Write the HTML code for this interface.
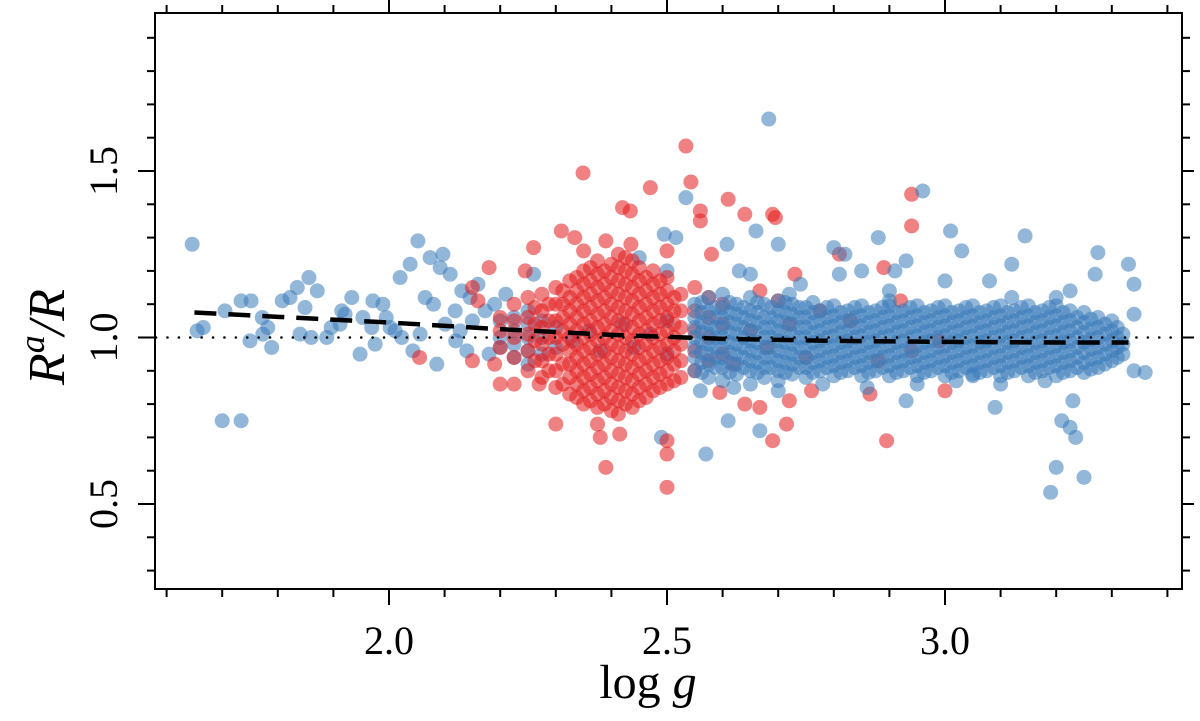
<!DOCTYPE html>
<html><head><meta charset="utf-8"><title>R^a/R vs log g</title>
<style>
html,body{margin:0;padding:0;background:#fff;}
svg{display:block;}
text{font-family:"Liberation Serif","DejaVu Serif",serif;fill:#000;}
</style></head>
<body>
<svg id="chart" width="1200" height="721" viewBox="0 0 1200 721" xmlns="http://www.w3.org/2000/svg">
<g id="points"></g>
<g id="fit"></g>
<rect x="155" y="13" width="1027" height="576" fill="none" stroke="#000" stroke-width="2"/>
<g id="axes"></g>
<text x="648" y="698" font-size="48" text-anchor="middle">log <tspan font-style="italic">g</tspan></text>
<text transform="translate(64,337) rotate(-90)" font-size="52" text-anchor="middle" font-style="italic">R<tspan font-size="36" dy="-20">a</tspan><tspan dy="20">/R</tspan></text>
</svg>
<script>
// ---- data ----
const xTicks = [1.6,1.7,1.8,1.9,2.0,2.1,2.2,2.3,2.4,2.5,2.6,2.7,2.8,2.9,3.0,3.1,3.2,3.3,3.4];
const xTickLabels = ["2.0","2.5","3.0"];
const xMajor = [2.0,2.5,3.0];
const yTicks = [0.3,0.4,0.5,0.6,0.7,0.8,0.9,1.0,1.1,1.2,1.3,1.4,1.5,1.6,1.7,1.8,1.9];
const yTickLabels = ["0.5","1.0","1.5"];
const yMajor = [0.5,1.0,1.5];
const fitX = [1.65,1.8,2.0,2.2,2.4,2.6,2.8,3.0,3.2,3.33];
const fitY = [1.075,1.062,1.045,1.025,1.008,0.996,0.99,0.987,0.985,0.985];
const refY = 1.0;

const blueSparse = [[1.646,1.28],[1.655,1.02],[1.666,1.03],[1.70,0.75],[1.734,0.75],[1.705,1.08],[1.734,1.11],[1.752,1.11],[1.75,0.99],[1.772,1.06],[1.773,1.01],[1.782,1.03],[1.789,0.97],[1.808,1.11],[1.822,1.12],[1.835,1.15],[1.849,1.09],[1.856,1.18],[1.84,1.01],[1.86,1.0],[1.871,1.14],[1.888,1.0],[1.896,1.03],[1.912,1.04],[1.915,1.08],[1.921,1.07],[1.933,1.12],[1.948,0.95],[1.953,1.06],[1.969,1.03],[1.971,1.11],[1.975,0.98],[1.989,1.1],[1.995,1.06],[2.002,1.03],[2.011,1.02],[2.02,1.18],[2.023,1.0],[2.038,1.22],[2.043,0.96],[2.052,1.29],[2.056,1.01],[2.074,1.24],[2.086,0.92],[2.092,1.21],[2.097,1.25],[2.101,1.04],[2.11,1.19],[2.119,1.08],[2.128,1.02],[2.131,1.14],[2.146,1.12],[2.16,1.16],[2.173,1.08],[2.065,1.12],[2.08,1.1],[2.12,0.99],[2.14,0.96],[2.15,1.05],[2.18,0.95],[2.19,1.1],[2.2,1.0],[2.21,1.13],[2.26,1.19],[2.45,1.24],[2.50,1.20],[2.495,1.31],[2.516,1.30],[2.534,1.42],[2.49,0.70],
[2.2,0.97],[2.2,1.05],[2.225,0.94],[2.225,0.98],[2.225,1.02],[2.225,1.06],[2.25,0.92],[2.25,0.96],[2.25,1.0],[2.25,1.04],[2.25,1.08],[2.275,0.95],[2.275,1.0],[2.275,1.05],[2.3,0.97],[2.3,1.03],[2.33,0.99],[2.36,1.02],[2.38,0.96],[2.42,1.04],[2.44,0.97],[2.47,1.01],[2.5,0.95],[2.5,1.05]];

const blueDense = [
[2.55,[0.9,0.94,0.97,1.0,1.03,1.06,1.1]],
[2.575,[0.88,0.92,0.95,0.98,1.01,1.04,1.08,1.12]],
[2.6,[0.87,0.91,0.94,0.97,1.0,1.03,1.06,1.09,1.13]],
[2.625,[0.89,0.92,0.95,0.98,1.01,1.04,1.07,1.1]],
[2.65,[0.86,0.9,0.93,0.96,0.99,1.02,1.05,1.08,1.12]],
[2.675,[0.88,0.91,0.94,0.97,1.0,1.03,1.06,1.1]],
[2.7,[0.87,0.9,0.93,0.96,0.99,1.02,1.05,1.08,1.11]],
[2.725,[0.89,0.92,0.95,0.98,1.01,1.04,1.07,1.1]],
[2.75,[0.88,0.91,0.94,0.97,1.0,1.03,1.06,1.09]],
[2.775,[0.9,0.93,0.96,0.99,1.02,1.05,1.08]],
[2.8,[0.885,0.915,0.945,0.975,1.005,1.035,1.065,1.095]],
[2.825,[0.9,0.93,0.96,0.99,1.02,1.05,1.08]],
[2.85,[0.885,0.915,0.945,0.975,1.005,1.035,1.065,1.095]],
[2.875,[0.9,0.93,0.96,0.99,1.02,1.05,1.08]],
[2.9,[0.885,0.915,0.945,0.975,1.005,1.035,1.065,1.095]],
[2.925,[0.9,0.93,0.96,0.99,1.02,1.05,1.08]],
[2.95,[0.885,0.915,0.945,0.975,1.005,1.035,1.065,1.095]],
[2.975,[0.9,0.93,0.96,0.99,1.02,1.05,1.08]],
[3.0,[0.885,0.915,0.945,0.975,1.005,1.035,1.065,1.095]],
[3.025,[0.9,0.93,0.96,0.99,1.02,1.05,1.08]],
[3.05,[0.885,0.915,0.945,0.975,1.005,1.035,1.065,1.095]],
[3.075,[0.9,0.93,0.96,0.99,1.02,1.05,1.08]],
[3.1,[0.885,0.915,0.945,0.975,1.005,1.035,1.065,1.095]],
[3.125,[0.9,0.93,0.96,0.99,1.02,1.05,1.08]],
[3.15,[0.885,0.915,0.945,0.975,1.005,1.035,1.065,1.095]],
[3.175,[0.9,0.93,0.96,0.99,1.02,1.05,1.08]],
[3.2,[0.885,0.915,0.945,0.975,1.005,1.035,1.065,1.095]],
[3.225,[0.9,0.93,0.96,0.99,1.02,1.05,1.08]],
[3.25,[0.895,0.925,0.955,0.985,1.015,1.045,1.075]],
[3.275,[0.91,0.94,0.97,1.0,1.03,1.06]],
[3.3,[0.93,0.96,0.99,1.02,1.05]],
[3.32,[0.95,0.98,1.01]]];

const blueDense2 = [
[2.5625,[0.895,0.925,0.955,0.985,1.015,1.045,1.075,1.105]],
[2.5875,[0.91,0.94,0.97,1.0,1.03,1.06,1.09]],
[2.6125,[0.895,0.925,0.955,0.985,1.015,1.045,1.075,1.105]],
[2.6375,[0.91,0.94,0.97,1.0,1.03,1.06,1.09]],
[2.6625,[0.895,0.925,0.955,0.985,1.015,1.045,1.075,1.105]],
[2.6875,[0.91,0.94,0.97,1.0,1.03,1.06,1.09]],
[2.7125,[0.895,0.925,0.955,0.985,1.015,1.045,1.075,1.105]],
[2.7375,[0.91,0.94,0.97,1.0,1.03,1.06,1.09]],
[2.7625,[0.895,0.925,0.955,0.985,1.015,1.045,1.075,1.105]],
[2.7875,[0.91,0.94,0.97,1.0,1.03,1.06,1.09]],
[2.8125,[0.895,0.925,0.955,0.985,1.015,1.045,1.075]],
[2.8375,[0.91,0.94,0.97,1.0,1.03,1.06,1.09]],
[2.8625,[0.895,0.925,0.955,0.985,1.015,1.045,1.075]],
[2.8875,[0.91,0.94,0.97,1.0,1.03,1.06,1.09]],
[2.9125,[0.895,0.925,0.955,0.985,1.015,1.045,1.075]],
[2.9375,[0.91,0.94,0.97,1.0,1.03,1.06,1.09]],
[2.9625,[0.895,0.925,0.955,0.985,1.015,1.045,1.075]],
[2.9875,[0.91,0.94,0.97,1.0,1.03,1.06,1.09]],
[3.0125,[0.895,0.925,0.955,0.985,1.015,1.045,1.075]],
[3.0375,[0.91,0.94,0.97,1.0,1.03,1.06,1.09]],
[3.0625,[0.895,0.925,0.955,0.985,1.015,1.045,1.075]],
[3.0875,[0.91,0.94,0.97,1.0,1.03,1.06,1.09]],
[3.1125,[0.895,0.925,0.955,0.985,1.015,1.045,1.075]],
[3.1375,[0.91,0.94,0.97,1.0,1.03,1.06,1.09]],
[3.1625,[0.895,0.925,0.955,0.985,1.015,1.045,1.075]],
[3.1875,[0.91,0.94,0.97,1.0,1.03,1.06,1.09]],
[3.2125,[0.895,0.925,0.955,0.985,1.015,1.045,1.075]],
[3.2375,[0.91,0.94,0.97,1.0,1.03,1.06]],
[3.2625,[0.905,0.935,0.965,0.995,1.025,1.055]],
[3.2875,[0.92,0.95,0.98,1.01,1.04]],
[3.31,[0.94,0.97,1.0,1.03]]];

const blueOut = [[2.683,1.656],[2.608,1.28],[2.66,1.32],[2.70,1.28],[2.96,1.44],[3.01,1.32],[3.144,1.305],[2.88,1.30],[2.80,1.27],[2.82,1.25],[3.275,1.255],[3.33,1.22],[3.27,1.19],[3.34,1.16],[3.225,1.14],[3.34,1.07],[3.34,0.90],[3.36,0.895],[3.23,0.81],[3.21,0.75],[3.225,0.73],[3.235,0.70],[3.20,0.61],[3.19,0.535],[3.25,0.58],[3.09,0.79],[3.05,0.89],[3.02,0.87],[2.93,0.81],[2.57,0.65],[2.56,0.84],[2.61,0.75],[2.667,0.72],[2.9,1.11],[2.91,1.20],[2.93,1.23],[3.03,1.26],[3.08,1.17],[3.12,1.22],[2.74,1.16],[2.81,1.19],[2.85,1.20],[2.65,1.19],[2.63,1.20],[3.0,1.17],[2.62,0.85],[2.7,0.84],[2.78,0.86],[2.86,0.85],[2.95,0.86],[3.1,0.86],[3.18,0.87],[2.72,1.13],[2.9,1.14],[3.12,1.12],[3.2,1.12]];

const redDense = [
[2.2,[0.97,1.02,1.06]],
[2.225,[0.94,1.0,1.05,1.1]],
[2.25,[0.9,0.96,1.01,1.06,1.12]],
[2.2625,[0.93,0.99,1.04,1.09]],
[2.275,[0.88,0.93,0.98,1.03,1.08,1.13]],
[2.2875,[0.9,0.95,1.0,1.05,1.1]],
[2.3,[0.85,0.9,0.95,1.0,1.05,1.1,1.15]],
[2.3125,[0.86,0.92,0.98,1.02,1.06,1.1,1.14]],
[2.325,[0.83,0.88,0.92,0.96,1.0,1.04,1.08,1.12,1.17]],
[2.3375,[0.82,0.86,0.9,0.94,0.98,1.02,1.06,1.1,1.14,1.18]],
[2.35,[0.8,0.84,0.88,0.92,0.96,1.0,1.04,1.08,1.12,1.16,1.2]],
[2.3625,[0.81,0.85,0.89,0.93,0.97,1.01,1.05,1.09,1.13,1.17,1.21]],
[2.375,[0.79,0.83,0.87,0.91,0.95,0.99,1.03,1.07,1.11,1.15,1.19,1.23]],
[2.3875,[0.8,0.84,0.88,0.92,0.96,1.0,1.04,1.08,1.12,1.16,1.2]],
[2.4,[0.78,0.82,0.86,0.9,0.94,0.98,1.02,1.06,1.1,1.14,1.18,1.22]],
[2.4125,[0.77,0.81,0.85,0.89,0.93,0.97,1.01,1.05,1.09,1.13,1.17,1.21,1.25]],
[2.425,[0.8,0.84,0.88,0.92,0.96,1.0,1.04,1.08,1.12,1.16,1.2,1.24]],
[2.4375,[0.79,0.83,0.87,0.91,0.95,0.99,1.03,1.07,1.11,1.15,1.19,1.23]],
[2.45,[0.81,0.85,0.89,0.93,0.97,1.01,1.05,1.09,1.13,1.17,1.21]],
[2.4625,[0.82,0.86,0.9,0.94,0.98,1.02,1.06,1.1,1.14,1.18]],
[2.475,[0.84,0.88,0.92,0.96,1.0,1.04,1.08,1.12,1.16,1.2]],
[2.4875,[0.85,0.89,0.93,0.97,1.01,1.05,1.09,1.13,1.17]],
[2.5,[0.86,0.9,0.94,0.98,1.02,1.06,1.1,1.14,1.18]],
[2.5125,[0.87,0.92,0.96,1.0,1.04,1.08,1.12]],
[2.525,[0.88,0.93,0.98,1.03,1.08,1.13]],
[2.55,[0.9,0.96,1.02,1.08,1.15]],
[2.575,[0.93,1.0,1.06,1.12]],
[2.6,[0.95,1.04,1.1]]];

const redOut = [[2.349,1.494],[2.534,1.575],[2.47,1.45],[2.543,1.467],[2.42,1.39],[2.434,1.38],[2.56,1.38],[2.56,1.35],[2.61,1.415],[2.31,1.32],[2.334,1.30],[2.35,1.26],[2.26,1.27],[2.18,1.21],[2.39,1.29],[2.435,1.28],[2.5,1.26],[2.58,1.25],[2.64,1.37],[2.69,1.37],[2.695,1.36],[2.73,1.19],[2.89,1.21],[2.94,1.335],[2.94,1.43],[2.81,1.25],[2.30,0.74],[2.38,0.70],[2.415,0.71],[2.375,0.74],[2.39,0.61],[2.5,0.69],[2.50,0.65],[2.50,0.55],[2.595,0.835],[2.667,0.79],[2.69,0.69],[2.715,0.74],[2.64,0.80],[2.895,0.69],[2.72,0.81],[2.2,0.86],[2.225,0.86],[2.15,0.93],[2.055,0.94],[2.19,0.92],[2.27,0.86],[2.76,0.84],[2.865,0.83],[3.0,0.84],[2.667,1.14],[2.70,1.11],[2.775,1.08],[2.83,1.05],[2.92,1.11],[2.94,0.96],[2.99,0.99],[2.88,0.93],[2.15,1.15],[2.16,1.11],[2.245,1.2],[2.62,0.92],[2.65,1.02],[2.68,0.97],[2.72,1.04],[2.75,0.94]];

// ---- scales ----
const X = v => 389 + (v - 2.0) * 556;
const Y = v => 337.5 - (v - 1.0) * 333;
const NS = "http://www.w3.org/2000/svg";
const R = 7.5;
const BLUE = "#3b7cb9", RED = "#e41a1c";

function flat(cols){ const out=[]; cols.forEach(c=>c[1].forEach(y=>out.push([c[0],y]))); return out; }
const bluePts = blueSparse.concat(flat(blueDense), flat(blueDense2), blueOut);
const redPts = flat(redDense).concat(redOut);

const pg = document.getElementById("points");
function dot(p, color, name){
  const c = document.createElementNS(NS,"circle");
  c.setAttribute("cx", X(p[0])); c.setAttribute("cy", Y(p[1])); c.setAttribute("r", R);
  c.setAttribute("fill", color); c.setAttribute("fill-opacity", "0.55");
  
  
  pg.appendChild(c);
}
bluePts.filter(p=>p[0]<2.53).forEach(p=>dot(p,BLUE,"blue-point"));
redPts.forEach(p=>dot(p,RED,"red-point"));
bluePts.filter(p=>p[0]>=2.53).forEach(p=>dot(p,BLUE,"blue-point"));

// reference dotted line
const ref = document.createElementNS(NS,"line");
ref.setAttribute("x1",156); ref.setAttribute("x2",1181);
ref.setAttribute("y1",Y(refY)); ref.setAttribute("y2",Y(refY));
ref.setAttribute("stroke","#000"); ref.setAttribute("stroke-width","2.5");
ref.setAttribute("stroke-dasharray","0.1 11.3"); ref.setAttribute("stroke-linecap","round");


document.getElementById("fit").appendChild(ref);

// fit dashed line
const fl = document.createElementNS(NS,"polyline");
fl.setAttribute("points", fitX.map((x,i)=>X(x)+","+Y(fitY[i])).join(" "));
fl.setAttribute("fill","none"); fl.setAttribute("stroke","#000"); fl.setAttribute("stroke-width","4.5");
fl.setAttribute("stroke-dasharray","22 12");


document.getElementById("fit").appendChild(fl);

// axes
const ax = document.getElementById("axes");
function ln(x1,y1,x2,y2,name){
  const l=document.createElementNS(NS,"line");
  l.setAttribute("x1",x1);l.setAttribute("y1",y1);l.setAttribute("x2",x2);l.setAttribute("y2",y2);
  l.setAttribute("stroke","#000");l.setAttribute("stroke-width","2");
  
  
  ax.appendChild(l);
}
xTicks.forEach(v=>{
  const maj = xMajor.some(m=>Math.abs(m-v)<1e-6);
  const x = X(v);
  ln(x,589,x,589+(maj?16:8),"x-tick");
  ln(x,13,x,13-(maj?13:8),"x-tick-top");
});
yTicks.forEach(v=>{
  const maj = yMajor.some(m=>Math.abs(m-v)<1e-6);
  const y = Y(v);
  ln(155,y,155-(maj?17:8),y,"y-tick");
  ln(1182,y,1182+(maj?12:8),y,"y-tick-right");
});
xMajor.forEach((v,i)=>{
  const t=document.createElementNS(NS,"text");
  t.setAttribute("x",X(v)); t.setAttribute("y",654); t.setAttribute("font-size","40");
  t.setAttribute("text-anchor","middle"); t.textContent=xTickLabels[i];
  
  
  ax.appendChild(t);
});
yMajor.forEach((v,i)=>{
  const t=document.createElementNS(NS,"text");
  t.setAttribute("transform","translate(117,"+Y(v)+") rotate(-90)");
  t.setAttribute("font-size","40"); t.setAttribute("text-anchor","middle");
  t.textContent=yTickLabels[i];
  
  
  ax.appendChild(t);
});
</script>
</body></html>
